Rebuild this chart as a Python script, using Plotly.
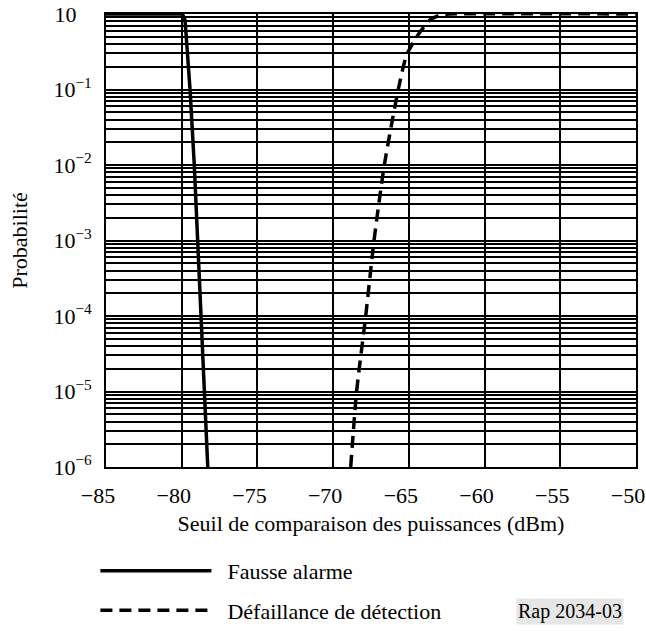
import plotly.graph_objects as go

# Data
fa_x = [-85, -79.95, -79.78, -79.68, -79.45, -79.17, -78.95, -78.69, -78.51, -78.28]
fa_p = [1, 1, 0.83, 0.455, 0.1, 1e-2, 1e-3, 1e-4, 1e-5, 1e-6]

md_x = [-68.84, -68.45, -67.85, -67.3, -66.62, -65.7, -65.15, -64.4, -63.6, -62.94, -62.3, -50]
md_p = [1e-6, 1e-5, 1e-4, 1e-3, 1e-2, 0.1, 0.286, 0.527, 0.834, 0.97, 1.0, 1.0]

x_ticks = [-85, -80, -75, -70, -65, -60, -55, -50]
x_ticktext = ["\u221285", "\u221280", "\u221275", "\u221270", "\u221265", "\u221260", "\u221255", "\u221250"]
decades = [-6, -5, -4, -3, -2, -1, 0]
decade_text = ["10<sup>\u22126</sup>", "10<sup>\u22125</sup>", "10<sup>\u22124</sup>",
               "10<sup>\u22123</sup>", "10<sup>\u22122</sup>", "10<sup>\u22121</sup>",
               "10<sup>\u2007\u2007</sup>"]

y_major = [10.0 ** d for d in decades]
y_minor = [k * 10.0 ** d for d in decades[:-1] for k in range(2, 10)]

FONT = "Liberation Serif, Times New Roman, serif"
FS = 22
GW = 1.6
LW = 3.5

fig = go.Figure()
fig.add_trace(go.Scatter(x=fa_x, y=fa_p, mode="lines", name="\u2002Fausse alarme",
                         legendgroup="fa",
                         line=dict(color="black", width=LW)))
fig.add_trace(go.Scatter(x=md_x, y=md_p, mode="lines", name="\u2002Défaillance de détection",
                         legendgroup="md",
                         line=dict(color="black", width=LW, dash="12px,7px",
                                   shape="spline", smoothing=0.6)))

fig.update_layout(
    width=646, height=631,
    margin=dict(l=106, r=10, t=14, b=164, autoexpand=False),
    paper_bgcolor="white", plot_bgcolor="white",
    font=dict(family=FONT, size=FS, color="black"),
    showlegend=True,
    legend=dict(x=-0.02, y=-0.183, xanchor="left", yanchor="top",
                font=dict(family=FONT, size=FS, color="black"),
                itemwidth=111, tracegroupgap=8, bgcolor="rgba(0,0,0,0)"),
    annotations=[dict(text="Rap 2034-03", xref="paper", yref="paper",
                      x=0.977, y=-0.32, xanchor="right", yanchor="middle",
                      showarrow=False, bgcolor="#e6e6e6",
                      font=dict(family=FONT, size=20, color="black"))],
)
fig.update_xaxes(range=[-85, -50], tickvals=x_ticks, ticktext=x_ticktext,
                 showgrid=True, gridcolor="black", gridwidth=GW,
                 showline=True, linecolor="black", linewidth=GW, mirror=True,
                 ticks="", zeroline=False, ticklabelstandoff=8, ticklabelshift=-8,
                 ticklabeloverflow="allow", automargin=False,
                 title=dict(text="Seuil de comparaison des puissances (dBm)",
                            font=dict(family=FONT, size=FS), standoff=8))
fig.update_yaxes(type="log", range=[-6, 0], tickvals=y_major, ticktext=decade_text,
                 showgrid=True, gridcolor="black", gridwidth=GW,
                 minor=dict(tickvals=y_minor, showgrid=True, gridcolor="black",
                            gridwidth=GW, ticks=""),
                 showline=True, linecolor="black", linewidth=GW, mirror=True,
                 ticks="", zeroline=False, ticklabelstandoff=8,
                 ticklabeloverflow="allow", automargin=False,
                 title=dict(text="Probabilité", font=dict(family=FONT, size=FS), standoff=20))

fig.write_html("out.html",
               config={"displayModeBar": False},
               post_script="document.body.style.margin='0';document.body.style.overflow='hidden';")
